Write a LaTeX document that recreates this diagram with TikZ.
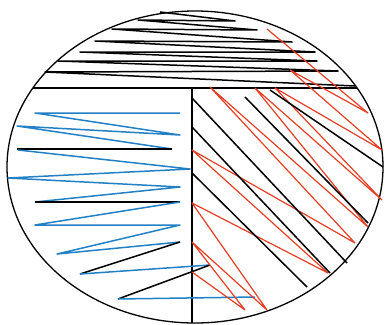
\documentclass[tikz,border=0pt]{standalone}
\usepackage{tikz}
\definecolor{streakBlue}{RGB}{34,128,196}
\definecolor{streakRed}{RGB}{228,62,36}
\tikzset{
  plate/.style={draw=black,line width=1.3pt},
  inkline/.style={draw=black,line width=1.5pt,line join=round},
  blueline/.style={draw=streakBlue,line width=1.5pt,line join=round},
  redline/.style={draw=streakRed,line width=1.2pt,line join=round}
}
\begin{document}
\begin{tikzpicture}[x=1pt,y=-1pt]
\useasboundingbox (0,0) rectangle (385,324);
% plate and sectors
\coordinate (mid) at (195,167);
\coordinate (cutL) at (33,88);\coordinate (cutR) at (357,88);
\coordinate (split) at (192,88);\coordinate (splitEnd) at (192,323);
\draw[plate] (mid) ellipse [x radius=188,y radius=156];
\draw[plate] (cutL)--(cutR);\draw[plate] (split)--(splitEnd);
% first streak (top)
\draw[inkline] (160,12)--(235,21)--(138,20)--(257,30)--(112,29)--(292,42)--(95,41)--(315,52)--(80,52)--(317,61)--(58,61)--(338,71)--(45,72)--(355,86);
% second streak (left)
\draw[blueline] (180,113)--(35,113)--(180,135)--(17,126)--(172,149);
\draw[inkline] (17,149)--(172,149);
\draw[blueline] (18,150)--(190,169)--(8,178)--(180,187)--(35,202);
\draw[inkline] (35,202)--(180,202);
\draw[blueline] (180,202)--(35,225)--(180,225)--(57,254)--(180,242);
\draw[inkline] (180,242)--(80,274);
\draw[blueline] (80,274)--(210,265);
\draw[inkline] (210,265)--(118,299);
\draw[blueline] (118,299)--(255,297);
% third streak (right)
\draw[redline] (267,29)--(368,113)--(290,70)--(382,150)--(275,88)--(382,200)--(255,88)--(368,227)--(210,87)--(355,243)--(192,150)--(328,273)--(192,203)--(267,310)--(192,242)--(245,310)--(192,272);
\draw[inkline] (270,90)--(383,167);
\draw[inkline] (245,97)--(368,223);
\draw[inkline] (192,98)--(347,263);
\draw[inkline] (192,127)--(330,273);
\draw[inkline] (192,173)--(307,287);
\end{tikzpicture}
\end{document}
